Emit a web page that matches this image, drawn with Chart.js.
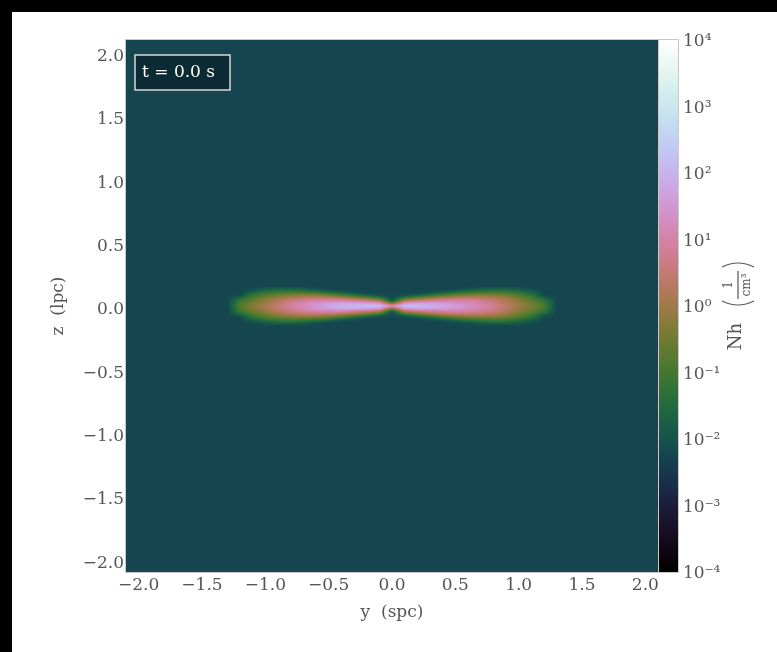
<!DOCTYPE html>
<html>
<head>
<meta charset="utf-8">
<script src="https://cdn.jsdelivr.net/npm/chart.js@4.4.1/dist/chart.umd.min.js"></script>
<style>
html,body{margin:0;padding:0;background:#000;}
#wrap{position:absolute;left:12px;top:12px;width:765px;height:640px;background:#fff;}
</style>
</head>
<body>
<div id="wrap"><canvas id="nhChart"></canvas></div>
<script>
// sampled columns along y (spc) and heights above the midplane z
const fieldY = [-1.4,-1.3,-1.2,-1.1,-1.0,-0.9,-0.8,-0.7,-0.6,-0.5,-0.4,-0.3,-0.2,-0.1,0.0,
                0.1,0.2,0.3,0.4,0.5,0.6,0.7,0.8,0.9,1.0,1.1,1.2,1.3,1.4];
const fieldZ = [0,0.02,0.04,0.06,0.08,0.10,0.12,0.14,0.16];

// log10 Nh, one row per height, columns follow fieldY (the field is mirrored below z=0)
const nhZ00 = [-2.25,-2.25,-0.8,-0.3,0.1,0.5,0.9,1.2,1.5,1.8,2.0,2.1,2.2,2.3,1.3,
               2.3,2.2,2.0,1.8,1.6,1.4,1.1,0.8,0.4,0.0,-0.4,-0.9,-2.25,-2.25];
const nhZ02 = [-2.25,-2.25,-0.9,-0.4,0.0,0.4,0.8,1.1,1.4,1.6,1.8,1.8,1.7,1.5,-0.3,
               1.5,1.7,1.7,1.6,1.4,1.2,1.0,0.7,0.3,-0.1,-0.5,-1.0,-2.25,-2.25];
const nhZ04 = [-2.25,-2.25,-1.1,-0.55,-0.15,0.25,0.6,0.85,1.05,1.15,1.1,0.9,0.7,0.3,-1.8,
               0.3,0.7,0.9,1.0,1.05,1.0,0.8,0.55,0.2,-0.25,-0.65,-1.2,-2.25,-2.25];
const nhZ06 = [-2.25,-2.25,-1.5,-0.8,-0.4,-0.05,0.25,0.45,0.55,0.5,0.35,0.0,-0.4,-0.9,-2.25,
               -0.9,-0.4,0.0,0.35,0.5,0.5,0.4,0.25,-0.05,-0.45,-0.9,-1.6,-2.25,-2.25];
const nhZ08 = [-2.25,-2.25,-2.0,-1.1,-0.7,-0.4,-0.2,-0.05,-0.1,-0.3,-0.6,-1.0,-1.5,-1.9,-2.25,
               -1.9,-1.5,-1.0,-0.6,-0.3,-0.15,-0.1,-0.15,-0.4,-0.75,-1.2,-2.05,-2.25,-2.25];
const nhZ10 = [-2.25,-2.25,-2.25,-1.5,-1.1,-0.85,-0.7,-0.7,-0.85,-1.1,-1.5,-1.9,-2.2,-2.25,-2.25,
               -2.25,-2.2,-1.9,-1.5,-1.15,-0.9,-0.75,-0.7,-0.8,-1.1,-1.55,-2.25,-2.25,-2.25];
const nhZ12 = [-2.25,-2.25,-2.25,-1.9,-1.55,-1.35,-1.3,-1.4,-1.6,-1.9,-2.15,-2.25,-2.25,-2.25,-2.25,
               -2.25,-2.25,-2.25,-2.15,-1.9,-1.6,-1.4,-1.3,-1.35,-1.55,-1.9,-2.25,-2.25,-2.25];
const nhZ14 = [-2.25,-2.25,-2.25,-2.2,-1.95,-1.85,-1.85,-1.95,-2.15,-2.25,-2.25,-2.25,-2.25,-2.25,-2.25,
               -2.25,-2.25,-2.25,-2.25,-2.25,-2.15,-1.95,-1.85,-1.85,-1.95,-2.2,-2.25,-2.25,-2.25];
const nhZ16 = [-2.25,-2.25,-2.25,-2.25,-2.25,-2.25,-2.25,-2.25,-2.25,-2.25,-2.25,-2.25,-2.25,-2.25,-2.25,
               -2.25,-2.25,-2.25,-2.25,-2.25,-2.25,-2.25,-2.25,-2.25,-2.25,-2.25,-2.25,-2.25,-2.25];
const floorLog = -2.25;

const xTicks = [-2.0,-1.5,-1.0,-0.5,0.0,0.5,1.0,1.5,2.0];
const zTicks = [-2.0,-1.5,-1.0,-0.5,0.0,0.5,1.0,1.5,2.0];
const cbarExponents = [-4,-3,-2,-1,0,1,2,3,4];
const timeLabel = "t = 0.0 s";

const logNh = [nhZ00,nhZ02,nhZ04,nhZ06,nhZ08,nhZ10,nhZ12,nhZ14,nhZ16];
const logMin = cbarExponents[0], logMax = cbarExponents[cbarExponents.length-1];

Chart.defaults.font.family = '"DejaVu Serif", serif';
Chart.defaults.color = '#555';

// matplotlib style cubehelix colour map
function cubehelix(t){
  t = Math.min(1, Math.max(0, t));
  const a = t*(1-t)/2;
  const phi = 2*Math.PI*(0.5/3 - 1.5*t);
  const c = Math.cos(phi), s = Math.sin(phi);
  const r = t + a*(-0.14861*c + 1.78277*s);
  const g = t + a*(-0.29227*c - 0.90649*s);
  const b = t + a*(1.97294*c);
  return [r,g,b].map(v => Math.round(255*Math.min(1, Math.max(0, v))));
}

function logNhAt(yv, zv){
  const dy = fieldY[1]-fieldY[0], dz = fieldZ[1]-fieldZ[0];
  const fi = (yv - fieldY[0])/dy, fj = Math.abs(zv)/dz;
  if(fi < 0 || fi > fieldY.length-1 || fj > fieldZ.length-1) return floorLog;
  const i = Math.min(Math.floor(fi), fieldY.length-2);
  const j = Math.min(Math.floor(fj), fieldZ.length-2);
  const u = fi-i, w = fj-j;
  const r0 = logNh[j], r1 = logNh[j+1];
  return (r0[i]*(1-u) + r0[i+1]*u)*(1-w) + (r1[i]*(1-u) + r1[i+1]*u)*w;
}

const sup = {'-':'\u207B','0':'\u2070','1':'\u00B9','2':'\u00B2','3':'\u00B3','4':'\u2074'};
const fmtTick = v => Math.abs(v) < 1e-9 ? '0.0' : v.toFixed(1).replace('-', '\u2212');
// keep label overhang from moving the plot box
const noOverhang = s => { s.paddingTop = 0; s.paddingBottom = 0; s.paddingLeft = 0; s.paddingRight = 0; };

const fieldPlugin = {
  id: 'nhField',
  beforeDatasetsDraw(chart){
    const {ctx, chartArea:a, scales} = chart;
    const w = Math.round(a.right-a.left), h = Math.round(a.bottom-a.top);

    // density map over the whole plot area
    const off = document.createElement('canvas');
    off.width = w; off.height = h;
    const octx = off.getContext('2d');
    const img = octx.createImageData(w, h);
    const ys = [], zs = [];
    for(let px=0; px<w; px++) ys.push(scales.x.getValueForPixel(a.left+px+0.5));
    for(let py=0; py<h; py++) zs.push(scales.y.getValueForPixel(a.top+py+0.5));
    for(let py=0; py<h; py++){
      for(let px=0; px<w; px++){
        const v = logNhAt(ys[px], zs[py]);
        const col = cubehelix((v-logMin)/(logMax-logMin));
        const k = (py*w+px)*4;
        img.data[k]=col[0]; img.data[k+1]=col[1]; img.data[k+2]=col[2]; img.data[k+3]=255;
      }
    }
    octx.putImageData(img, 0, 0);
    ctx.drawImage(off, a.left, a.top);

    ctx.save();
    ctx.strokeStyle = '#c8c8c8';
    ctx.lineWidth = 1;
    ctx.strokeRect(a.left-0.5, a.top-0.5, w+1, h+1);

    // colour bar strip, stops placed along the log axis
    const cb = scales.cbar;
    const grad = ctx.createLinearGradient(0, a.top, 0, a.bottom);
    for(let k=0; k<=64; k++){
      const e = logMin + (logMax-logMin)*k/64;
      const p = cb.getPixelForValue(Math.pow(10, e));
      const col = cubehelix(k/64);
      grad.addColorStop(Math.min(1, Math.max(0, (p-a.top)/(a.bottom-a.top))), 'rgb('+col.join(',')+')');
    }
    ctx.fillStyle = grad;
    ctx.fillRect(a.right, a.top, 20, h);
    ctx.strokeRect(a.right+0.5, a.top-0.5, 20, h+1);

    // time stamp box
    ctx.fillStyle = '#0c2a33';
    ctx.fillRect(a.left+9, a.top+15, 95, 35);
    ctx.strokeStyle = '#d8d8d8';
    ctx.lineWidth = 1.5;
    ctx.strokeRect(a.left+9, a.top+15, 95, 35);
    ctx.fillStyle = '#fff';
    ctx.font = '17px "DejaVu Serif"';
    ctx.textBaseline = 'middle';
    ctx.textAlign = 'left';
    ctx.fillText(timeLabel, a.left+16, a.top+33);

    // colour bar title: Nh (1/cm^3), read bottom to top
    ctx.translate(a.right+80, a.top+247);
    ctx.rotate(-Math.PI/2);
    ctx.fillStyle = '#555';
    ctx.strokeStyle = '#555';
    ctx.lineWidth = 1.2;
    ctx.font = '18px "DejaVu Serif"';
    ctx.textAlign = 'right';
    ctx.fillText('Nh', -36, -2);
    ctx.beginPath();
    ctx.moveTo(-14, -16); ctx.quadraticCurveTo(-22, 0, -14, 16);
    ctx.moveTo(20, -16); ctx.quadraticCurveTo(28, 0, 20, 16);
    ctx.moveTo(-12, 0); ctx.lineTo(16, 0);
    ctx.stroke();
    ctx.textAlign = 'center';
    ctx.font = '12px "DejaVu Serif"';
    ctx.fillText('1', 2, -9);
    ctx.fillText('cm\u00B3', 2, 9);
    ctx.restore();
  }
};

new Chart(document.getElementById('nhChart'), {
  type: 'scatter',
  data: { datasets: [] },
  options: {
    responsive: true,
    maintainAspectRatio: false,
    animation: false,
    layout: { padding: { top: 28, left: 0, right: 0, bottom: 0 } },
    plugins: { legend: { display: false }, tooltip: { enabled: false } },
    scales: {
      x: {
        type: 'linear', min: -2.1, max: 2.1,
        grid: { display: false, drawTicks: false },
        border: { display: false },
        afterBuildTicks: s => { s.ticks = xTicks.map(v => ({ value: v })); },
        afterFit: s => { s.height = 80; noOverhang(s); },
        ticks: { padding: 3, font: { size: 17 }, autoSkip: false, maxRotation: 0, callback: fmtTick },
        title: { display: true, text: 'y  (spc)', font: { size: 17 }, padding: { top: 0, bottom: 29 } }
      },
      y: {
        type: 'linear', min: -2.1, max: 2.1,
        grid: { display: false, drawTicks: false },
        border: { display: false },
        afterBuildTicks: s => { s.ticks = zTicks.map(v => ({ value: v })); },
        afterFit: s => { s.width = 114; noOverhang(s); },
        ticks: { padding: 2, labelOffset: 4, font: { size: 17 }, autoSkip: false, callback: fmtTick },
        title: { display: true, text: 'z  (lpc)', font: { size: 17 }, padding: { top: 36, bottom: 0 } }
      },
      cbar: {
        type: 'logarithmic', position: 'right', min: 1e-4, max: 1e4,
        grid: { display: false, drawTicks: false },
        border: { display: false },
        afterBuildTicks: s => { s.ticks = cbarExponents.map(e => ({ value: Math.pow(10, e) })); },
        afterFit: s => { s.width = 119; noOverhang(s); },
        ticks: {
          padding: 25, labelOffset: 2, font: { size: 17 }, autoSkip: false,
          callback: v => '10' + String(Math.round(Math.log10(v))).split('').map(ch => sup[ch]).join('')
        }
      }
    }
  },
  plugins: [fieldPlugin]
});
</script>
</body>
</html>
